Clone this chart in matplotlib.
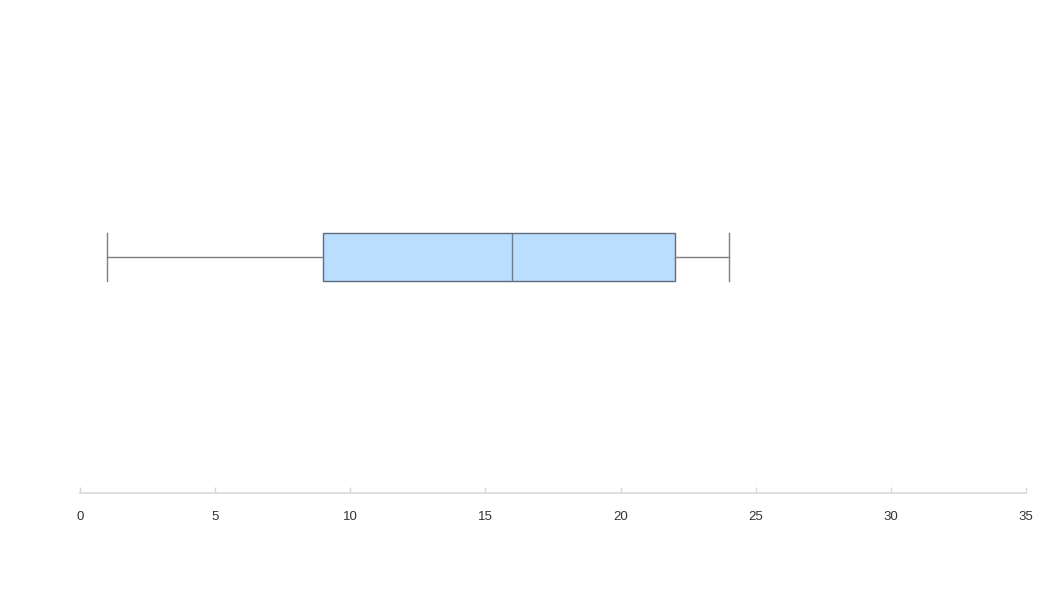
import matplotlib.pyplot as plt

plt.rcParams['font.family'] = ['Liberation Sans', 'DejaVu Sans']

# Box summary
whisker_low = 1
q1 = 9
median = 16
q3 = 22
whisker_high = 24
x_ticks = [0, 5, 10, 15, 20, 25, 30, 35]

fig = plt.figure(figsize=(10.47, 5.89), dpi=100)
ax = fig.add_axes([80 / 1047, 96 / 589, 946 / 1047, 472 / 589])

stats = [{
    'whislo': whisker_low, 'q1': q1, 'med': median,
    'q3': q3, 'whishi': whisker_high, 'fliers': [],
}]
ax.bxp(stats, positions=[0], widths=0.1, vert=False, patch_artist=True,
       showfliers=False, capwidths=0.1,
       boxprops=dict(facecolor='#b9defe', edgecolor='#5f6b7c', linewidth=1),
       medianprops=dict(color='#6f7a88', linewidth=1),
       whiskerprops=dict(color='#7f7f7f', linewidth=1),
       capprops=dict(color='#7f7f7f', linewidth=1))

ax.set_xlim(0, 35)
ax.set_ylim(-0.5, 0.5)
ax.set_xticks(x_ticks)
ax.set_xticklabels([str(t) for t in x_ticks])
ax.set_yticks([])

for side in ['top', 'right', 'left']:
    ax.spines[side].set_visible(False)
ax.spines['bottom'].set_color('#d9d9d9')
ax.spines['bottom'].set_linewidth(1.2)
ax.tick_params(axis='x', direction='in', length=4, width=1, color='#d9d9d9',
               labelsize=9.5, labelcolor='#333333', pad=13)

fig.savefig('out.png', dpi=100)
